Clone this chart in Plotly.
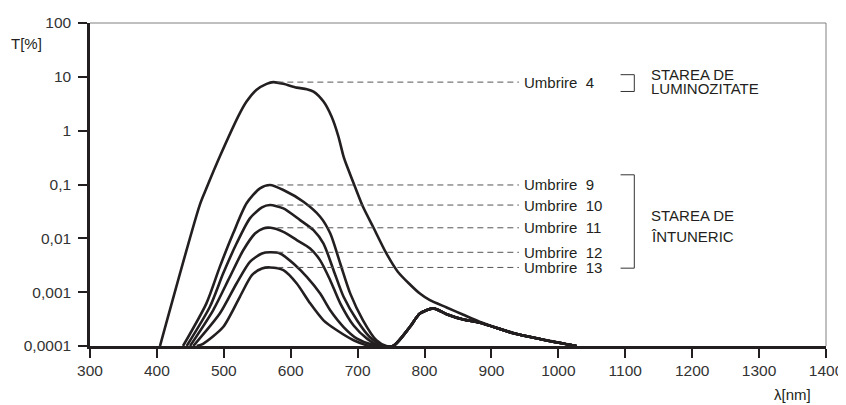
import math

import plotly.graph_objects as go

# --- date (T[%] vs lambda[nm]) ---
shade4_nm = [404.6, 464, 474, 494, 524, 534, 549, 564, 574, 589, 609, 624, 634, 649, 661,
             671, 679, 684, 696, 708, 723, 743, 760, 793, 808, 833, 858, 883, 933, 958, 983, 1027]
shade4_t = [1e-4, 0.0415, 0.085, 0.33, 2.11, 3.47, 5.74, 7.41, 7.98, 7.41, 6.3, 5.9, 5.33, 3.47, 1.83,
            0.8, 0.33, 0.22, 0.091, 0.0386, 0.0164, 0.00524, 0.0024, 9.4e-4, 7.1e-4, 5.2e-4,
            3.8e-4, 2.8e-4, 1.75e-4, 1.47e-4, 1.28e-4, 1.0e-4]

shade9_nm = [439, 474, 494, 514, 534, 554, 569, 589, 619, 644, 659, 674, 689, 708, 728, 743]
shade9_t = [1e-4, 6.2e-4, 2.95e-3, 0.0124, 0.0447, 0.0849, 0.098, 0.0789, 0.0478, 0.0252,
            0.0124, 0.00341, 9.4e-4, 3.0e-4, 1.28e-4, 1e-4]

shade10_nm = [444.5, 479, 499, 519, 539, 557, 569, 589, 614, 634, 649, 664, 679, 699, 718, 738]
shade10_t = [1e-4, 5.3e-4, 2.22e-3, 8.0e-3, 0.0235, 0.0376, 0.0415, 0.036, 0.0218, 0.0142,
             0.008, 2.56e-3, 8.2e-4, 3.0e-4, 1.47e-4, 1e-4]

shade11_nm = [449.5, 484, 509, 529, 547, 559, 570, 589, 609, 629, 644, 659, 674, 694, 714, 733]
shade11_t = [1e-4, 4.6e-4, 1.92e-3, 6.0e-3, 0.0124, 0.0153, 0.0157, 0.0132, 9.3e-3, 6.5e-3,
             3.9e-3, 1.67e-3, 6.2e-4, 2.4e-4, 1.37e-4, 1e-4]

shade12_nm = [454.4, 494, 519, 539, 557, 569, 584, 604, 624, 644, 659, 679, 699, 723]
shade12_t = [1e-4, 4.0e-4, 1.45e-3, 3.66e-3, 5.24e-3, 5.5e-3, 5.24e-3, 3.41e-3, 1.92e-3,
             9.4e-4, 4.6e-4, 2.25e-4, 1.37e-4, 1.05e-4]

shade13_nm = [459.5, 469, 499, 524, 542, 557, 569, 589, 609, 629, 649, 669, 694, 719]
shade13_t = [1e-4, 1.1e-4, 2.25e-4, 8.2e-4, 2.07e-3, 2.75e-3, 2.88e-3, 2.56e-3, 1.45e-3,
             6.2e-4, 3.0e-4, 1.96e-4, 1.28e-4, 1e-4]

# coada IR comuna pentru starea de intuneric
nir_nm = [753, 778, 793, 813, 833, 858, 883, 933, 983, 1027]
nir_t = [1e-4, 2.25e-4, 4.0e-4, 5.0e-4, 3.9e-4, 3.1e-4, 2.7e-4, 1.72e-4, 1.27e-4, 1e-4]

shade_labels = ["Umbrire\u00a0\u00a04", "Umbrire\u00a0\u00a09", "Umbrire\u00a0\u00a010",
                "Umbrire\u00a0\u00a011", "Umbrire\u00a0\u00a012", "Umbrire\u00a0\u00a013"]
shade_peaks = [7.98, 0.098, 0.0415, 0.0157, 0.0055, 0.00288]

x_ticks = list(range(300, 1401, 100))
y_ticks = [1e-4, 1e-3, 1e-2, 0.1, 1, 10, 100]
y_ticktext = ["0,0001", "0,001", "0,01", "0,1", "1", "10", "100"]

INK = "#231f20"
FONT = "Liberation Sans, Arial, Helvetica, sans-serif"

fig = go.Figure()

curves = [
    (shade4_nm, shade4_t),
    (shade9_nm + nir_nm, shade9_t + nir_t),
    (shade10_nm + nir_nm, shade10_t + nir_t),
    (shade11_nm + nir_nm, shade11_t + nir_t),
    (shade12_nm + nir_nm, shade12_t + nir_t),
    (shade13_nm + nir_nm, shade13_t + nir_t),
]
for xs, ys in curves:
    fig.add_trace(go.Scatter(
        x=xs, y=ys, mode="lines",
        line=dict(color=INK, width=2.6, shape="spline", smoothing=0.7),
        showlegend=False, hoverinfo="skip",
    ))

# linii punctate de la maxim la eticheta
for label, peak in zip(shade_labels, shade_peaks):
    fig.add_trace(go.Scatter(
        x=[580, 941], y=[peak, peak], mode="lines",
        line=dict(color="#555555", width=1, dash="6px,4px"),
        showlegend=False, hoverinfo="skip",
    ))

annotations = []
for label, peak in zip(shade_labels, shade_peaks):
    annotations.append(dict(
        x=946, y=math.log10(peak), xref="x", yref="y",
        text=label, showarrow=False, xanchor="left", yanchor="middle",
        font=dict(size=15, color=INK, family=FONT),
    ))

for txt, yp in [("STAREA DE", 0.842), ("LUMINOZITATE", 0.796),
                ("STAREA DE", 0.405), ("ÎNTUNERIC", 0.340)]:
    annotations.append(dict(
        x=1136, y=yp, xref="x", yref="paper", text=txt, showarrow=False,
        xanchor="left", yanchor="middle",
        font=dict(size=15, color=INK, family=FONT),
    ))

annotations.append(dict(
    x=0, y=0.938, xref="paper", yref="paper", text="T[%]", showarrow=False,
    xanchor="right", yanchor="middle", xshift=-46,
    font=dict(size=15, color=INK, family=FONT),
))
annotations.append(dict(
    x=0.983, y=-0.151, xref="paper", yref="paper", text="λ[nm]", showarrow=False,
    xanchor="right", yanchor="middle",
    font=dict(size=15, color=INK, family=FONT),
))

shapes = [
    # chenar sus / dreapta
    dict(type="line", xref="paper", yref="paper", x0=0, x1=1, y0=1, y1=1,
         line=dict(color="#808080", width=1)),
    dict(type="line", xref="paper", yref="paper", x0=1, x1=1, y0=0, y1=1,
         line=dict(color="#808080", width=1)),
    # acolade
    dict(type="path", xref="x", yref="paper",
         path="M 1093,0.840 L 1113.5,0.840 L 1113.5,0.788 L 1093,0.788",
         line=dict(color="#333333", width=1)),
    dict(type="path", xref="x", yref="paper",
         path="M 1093,0.530 L 1113.5,0.530 L 1113.5,0.241 L 1093,0.241",
         line=dict(color="#333333", width=1)),
]

axis_common = dict(
    showgrid=False, zeroline=False, showline=True, linecolor=INK, linewidth=2.5,
    ticks="outside", ticklen=9, tickwidth=2, tickcolor=INK, automargin=False,
    tickfont=dict(size=15.5, color="#333333", family=FONT),
)

# pagina deplaseaza figura cu 8px (margine body)
fig.update_layout(
    width=838, height=397,
    margin=dict(l=82, r=20, t=15, b=59),
    paper_bgcolor="white", plot_bgcolor="white",
    font=dict(family=FONT, color=INK),
    xaxis=dict(range=[300, 1400], tickvals=x_ticks, **axis_common),
    yaxis=dict(type="log", range=[-4, 2], tickvals=y_ticks, ticktext=y_ticktext,
               ticklabelstandoff=4, **axis_common),
    annotations=annotations,
    shapes=shapes,
)

fig.write_html("out.html")
